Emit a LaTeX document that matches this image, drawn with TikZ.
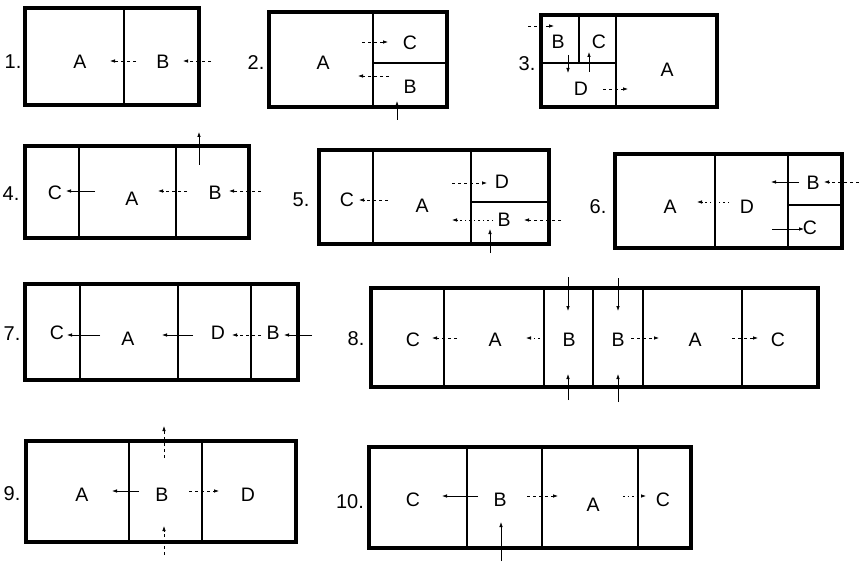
\documentclass[tikz,border=0pt]{standalone}
\usepackage{fontspec}
\setmainfont{Liberation Sans}
\usetikzlibrary{arrows.meta}
\tikzset{
  outer/.style={line width=3.6pt, line join=miter},
  inner/.style={line width=1.1pt},
  lbl/.style={font=\fontsize{19.5}{19.5}\selectfont, inner sep=0pt},
  num/.style={font=\fontsize{20}{20}\selectfont, inner sep=0pt},
  arr/.style={-{Latex[length=5pt,width=3.6pt]}, line width=0.8pt},
  dsh/.style={arr, dash pattern=on 3pt off 3pt},
  dot/.style={arr, dash pattern=on 1.5pt off 3pt},
}
\begin{document}
\begin{tikzpicture}[x=1pt,y=-1pt]
\path[use as bounding box, fill=white] (0,0) rectangle (859,564);

% ---------- 1 ----------
\node[num] (n1) at (13,62) {1.};
\draw[outer] (25,8) rectangle (199,105);
\draw[inner] (124,8) -- (124,105);
\node[lbl] (a1) at (80,62) {A};
\node[lbl] (b1) at (163,62) {B};
\draw[dsh] (136,61) -- (110,61);
\draw[dsh] (211,61) -- (183,61);

% ---------- 2 ----------
\node[num] (n2) at (256,63) {2.};
\draw[outer] (269,12) rectangle (447,107);
\draw[inner] (373,12) -- (373,107);
\draw[inner] (373,63) -- (447,63);
\node[lbl] (a2) at (323,63) {A};
\node[lbl] (c2) at (410,43) {C};
\node[lbl] (b2) at (410,87) {B};
\draw[dsh] (362,42) -- (388,42);
\draw[dsh] (389,76) -- (358,76);
\draw[arr] (397,120) -- (397,101);

% ---------- 3 ----------
\node[num] (n3) at (527,64) {3.};
\draw[outer] (541,15) rectangle (717,107);
\draw[inner] (616,15) -- (616,107);
\draw[inner] (541,63) -- (616,63);
\draw[inner] (579,15) -- (579,63);
\node[lbl] (b3) at (558,42) {B};
\node[lbl] (c3) at (599,42) {C};
\node[lbl] (d3) at (581,89) {D};
\node[lbl] (a3) at (667,70) {A};
\draw[dsh] (528,26) -- (554,26);
\draw[arr] (568,55) -- (568,73);
\draw[arr] (589,72) -- (589,52);
\draw[dsh] (603,89) -- (628,89);

% ---------- 4 ----------
\node[num] (n4) at (11,194) {4.};
\draw[outer] (25,146) rectangle (249,238);
\draw[inner] (79,146) -- (79,238);
\draw[inner] (176,146) -- (176,238);
\node[lbl] (c4) at (55,193) {C};
\node[lbl] (a4) at (132,199) {A};
\node[lbl] (b4) at (215,193) {B};
\draw[arr] (95,191) -- (66,191);
\draw[dsh] (187,191) -- (158,191);
\draw[dsh] (261,191) -- (229,191);
\draw[arr] (199,165) -- (199,132);

% ---------- 5 ----------
\node[num] (n5) at (301,200) {5.};
\draw[outer] (319,150) rectangle (549,244);
\draw[inner] (373,150) -- (373,244);
\draw[inner] (471,150) -- (471,244);
\draw[inner] (471,202) -- (549,202);
\node[lbl] (c5) at (347,200) {C};
\node[lbl] (a5) at (422,206) {A};
\node[lbl] (d5) at (502,182) {D};
\node[lbl] (b5) at (504,220) {B};
\draw[dsh] (388,200) -- (359,200);
\draw[dsh] (452,183) -- (487,183);
\draw[dot] (493,220) -- (452,220);
\draw[dsh] (561,220) -- (524,220);
\draw[arr] (490,253) -- (490,229);

% ---------- 6 ----------
\node[num] (n6) at (598,207) {6.};
\draw[outer] (615,154) rectangle (842,248);
\draw[inner] (715,154) -- (715,248);
\draw[inner] (788,154) -- (788,248);
\draw[inner] (788,205) -- (842,205);
\node[lbl] (a6) at (670,207) {A};
\node[lbl] (d6) at (747,207) {D};
\node[lbl] (b6) at (813,183) {B};
\node[lbl] (c6) at (810,228) {C};
\draw[dot] (729,202) -- (697,202);
\draw[arr] (799,182) -- (771,182);
\draw[dsh] (859,182) -- (824,182);
\draw[arr] (772,229) -- (804,229);

% ---------- 7 ----------
\node[num] (n7) at (12,334) {7.};
\draw[outer] (25,284) rectangle (298,380);
\draw[inner] (80,284) -- (80,380);
\draw[inner] (178,284) -- (178,380);
\draw[inner] (251,284) -- (251,380);
\node[lbl] (c7) at (57,333) {C};
\node[lbl] (a7) at (128,339) {A};
\node[lbl] (d7) at (218,333) {D};
\node[lbl] (b7) at (273,333) {B};
\draw[arr] (100,335) -- (67,335);
\draw[arr] (193,335) -- (162,335);
\draw[dsh] (261,335) -- (232,335);
\draw[arr] (312,335) -- (284,335);

% ---------- 8 ----------
\node[num] (n8) at (356,339) {8.};
\draw[outer] (371,288) rectangle (818,387);
\draw[inner] (444,288) -- (444,387);
\draw[inner] (544,288) -- (544,387);
\draw[inner] (593,288) -- (593,387);
\draw[inner] (643,288) -- (643,387);
\draw[inner] (742,288) -- (742,387);
\node[lbl] (c8a) at (413,340) {C};
\node[lbl] (a8a) at (495,340) {A};
\node[lbl] (b8a) at (569,340) {B};
\node[lbl] (b8b) at (618,340) {B};
\node[lbl] (a8b) at (695,340) {A};
\node[lbl] (c8b) at (778,340) {C};
\draw[dsh] (457,338) -- (432,338);
\draw[dot] (544,338) -- (526,338);
\draw[dsh] (631,338) -- (659,338);
\draw[dsh] (732,338) -- (758,338);
\draw[arr] (568,277) -- (568,311);
\draw[arr] (568,400) -- (568,374);
\draw[arr] (618,278) -- (618,311);
\draw[arr] (618,402) -- (618,374);

% ---------- 9 ----------
\node[num] (n9) at (12,494) {9.};
\draw[outer] (26,441) rectangle (296,542);
\draw[inner] (129,441) -- (129,542);
\draw[inner] (202,441) -- (202,542);
\node[lbl] (a9) at (82,495) {A};
\node[lbl] (b9) at (162,495) {B};
\node[lbl] (d9) at (248,495) {D};
\draw[arr] (139,491) -- (112,491);
\draw[dsh] (189,491) -- (219,491);
\draw[dsh] (164,458) -- (164,426);
\draw[dsh] (164,555) -- (164,526);

% ---------- 10 ----------
\node[num] (n10) at (350,502) {10.};
\draw[outer] (369,447) rectangle (691,548);
\draw[inner] (467,447) -- (467,548);
\draw[inner] (542,447) -- (542,548);
\draw[inner] (638,447) -- (638,548);
\node[lbl] (c10a) at (413,500) {C};
\node[lbl] (b10) at (500,500) {B};
\node[lbl] (a10) at (593,505) {A};
\node[lbl] (c10b) at (663,500) {C};
\draw[arr] (478,496) -- (442,496);
\draw[dsh] (527,496) -- (558,496);
\draw[dot] (623,496) -- (646,496);
\draw[arr] (501,561) -- (501,522);
\end{tikzpicture}
\end{document}
